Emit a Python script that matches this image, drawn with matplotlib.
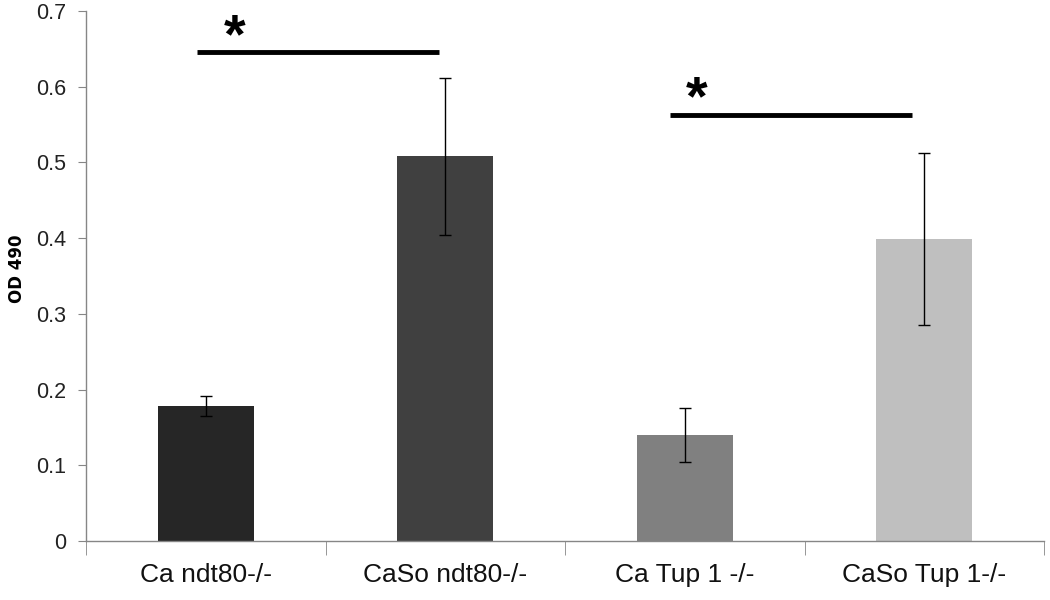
import matplotlib.pyplot as plt
from matplotlib.ticker import FixedLocator

# Values
categories = ['Ca ndt80-/-', 'CaSo ndt80-/-', 'Ca Tup 1 -/-', 'CaSo Tup 1-/-']
od_values = [0.178, 0.508, 0.140, 0.399]
od_errors = [0.013, 0.104, 0.036, 0.114]
bar_colors = ['#262626', '#404040', '#808080', '#bfbfbf']

# Significance brackets: (x start, x end, height, star x, star y)
sig_lines = [(-0.037, 0.974, 0.646, 0.12, 0.672), (1.938, 2.949, 0.563, 2.05, 0.590)]

fig = plt.figure(figsize=(10.5, 6), dpi=100)
ax = fig.add_axes([0.0819, 0.0983, 0.9124, 0.8834])

x = list(range(len(categories)))
ax.bar(x, od_values, width=0.4, color=bar_colors, zorder=2)
ax.errorbar(x, od_values, yerr=od_errors, fmt='none', ecolor='black',
            elinewidth=1, capsize=4, capthick=1, zorder=3)

for x0, x1, h, sx, sy in sig_lines:
    ax.plot([x0, x1], [h, h], color='black', lw=3.5, solid_capstyle='butt', clip_on=False)
    ax.text(sx, sy, '*', fontsize=40, fontweight='bold', ha='center', va='center_baseline',
            family=['Liberation Sans', 'DejaVu Sans'])

ax.set_xlim(-0.5, 3.5)
ax.set_ylim(0, 0.7)
ax.set_yticks([0, 0.1, 0.2, 0.3, 0.4, 0.5, 0.6, 0.7])
ax.set_yticklabels(['0', '0.1', '0.2', '0.3', '0.4', '0.5', '0.6', '0.7'],
                   family=['Liberation Sans', 'DejaVu Sans'], fontsize=15.5, color='#222222')
ax.set_xticks(x)
ax.set_xticklabels(categories, family=['Liberation Sans Narrow', 'Liberation Sans', 'DejaVu Sans'],
                   fontsize=19, color='#111111')
ax.xaxis.set_minor_locator(FixedLocator([-0.5, 0.5, 1.5, 2.5, 3.5]))
ax.tick_params(axis='x', which='major', length=0, pad=16)
ax.tick_params(axis='x', which='minor', length=10, direction='out', color='#868686')
ax.tick_params(axis='y', length=6, direction='out', color='#868686', pad=8)

for side in ['top', 'right']:
    ax.spines[side].set_visible(False)
for side in ['left', 'bottom']:
    ax.spines[side].set_color('#868686')
    ax.spines[side].set_linewidth(1)

ax.set_ylabel('OD 490', fontsize=12, fontweight='bold', family='DejaVu Sans', va='center')
ax.yaxis.set_label_coords(-0.0725, 0.513)

fig.savefig('out.png', dpi=100)
